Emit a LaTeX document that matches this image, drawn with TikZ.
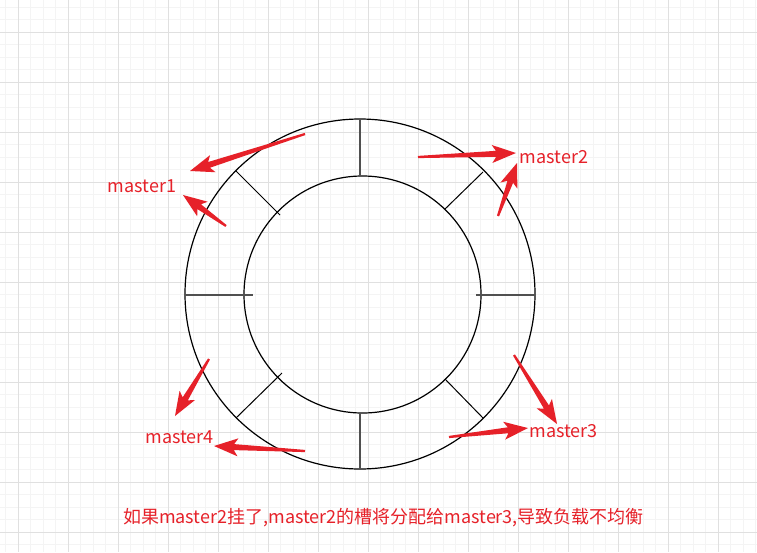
\documentclass[tikz,border=0pt]{standalone}
\usepackage{fontspec}
\newfontfamily\cjk{Noto Sans CJK SC}
\usetikzlibrary{calc}
\definecolor{arrowred}{RGB}{230,33,41}
\definecolor{gridmajor}{RGB}{224,224,224}
\definecolor{gridminor}{RGB}{244,244,244}
\definecolor{spokegray}{RGB}{80,80,80}
\newcommand\redarrow[2]{%
  \path ($(#2)!24pt!(#1)$) coordinate (rc) ($(#2)!20pt!(#1)$) coordinate (rn);
  \fill[arrowred] ($(#1)!1.1pt!90:(#2)$) -- ($(rn)!3pt!-90:(#1)$) -- ($(rc)!9pt!-90:(#1)$) -- (#2)
    -- ($(rc)!9pt!90:(#1)$) -- ($(rn)!3pt!90:(#1)$) -- ($(#1)!1.1pt!-90:(#2)$) -- cycle;}
\tikzset{
  lab/.style={text=arrowred, font=\cjk\fontsize{18}{20}\selectfont, inner sep=0pt},
  ring/.style={circle, draw=black, line width=1.2pt, outer sep=0pt, inner sep=0pt},
  mainspoke/.style={draw=spokegray, line width=1.7pt},
  diagspoke/.style={draw=black, line width=1pt},
}
\begin{document}
\begin{tikzpicture}[x=1pt,y=-1pt]
\fill[white] (0,0) rectangle (757,552);
\useasboundingbox (0,0) rectangle (757,552);
% grid
\foreach \i in {0,...,60} {\draw[gridminor,line width=0.8pt] ({5.5+12.5*\i},0) -- ++(0,552);}
\foreach \i in {0,...,44} {\draw[gridminor,line width=0.8pt] (0,{7+12.5*\i}) -- ++(757,0);}
\foreach \i in {0,...,14} {\draw[gridmajor,line width=0.9pt] ({18+50*\i},0) -- ++(0,552);}
\foreach \i in {0,...,10} {\draw[gridmajor,line width=0.9pt] (0,{32+50*\i}) -- ++(757,0);}
% rings
\node[ring, minimum size=350pt] (outer) at (360,294) {};
\node[ring, minimum size=237pt] (inner) at (362.5,294.5) {};
% spokes
\draw[mainspoke] (360,119) -- (360,176);
\draw[mainspoke] (360,469) -- (360,413);
\draw[mainspoke] (185,295) -- (253,295);
\draw[mainspoke] (535,295) -- (476,295);
\draw[diagspoke] (236,171) -- (280,215);
\draw[diagspoke] (483,172) -- (445,209);
\draw[diagspoke] (236,418) -- (282,373);
\draw[diagspoke] (483,418) -- (445,379);
% labels
\node[lab] (m1) at (142,186) {master1};
\node[lab] (m2) at (554,157) {master2};
\node[lab] (m3) at (563.5,431) {master3};
\node[lab] (m4) at (179.5,437) {master4};
\node[lab] (note) at (383.5,518) {如果master2挂了,master2的槽将分配给master3,导致负载不均衡};
% arrow ends
\coordinate (a1t) at (305,134); \coordinate (a1h) at (190,171);
\coordinate (a2t) at (226,226); \coordinate (a2h) at (183,195);
\coordinate (a3t) at (418,157); \coordinate (a3h) at (516,153);
\coordinate (a4t) at (498,216); \coordinate (a4h) at (517,163);
\coordinate (a5t) at (209,359); \coordinate (a5h) at (175,416);
\coordinate (a6t) at (305,451); \coordinate (a6h) at (214,446);
\coordinate (a7t) at (514,355); \coordinate (a7h) at (557,424);
\coordinate (a8t) at (449,437); \coordinate (a8h) at (528,428);
\redarrow{a1t}{a1h}
\redarrow{a2t}{a2h}
\redarrow{a3t}{a3h}
\redarrow{a4t}{a4h}
\redarrow{a5t}{a5h}
\redarrow{a6t}{a6h}
\redarrow{a7t}{a7h}
\redarrow{a8t}{a8h}
\end{tikzpicture}
\end{document}
